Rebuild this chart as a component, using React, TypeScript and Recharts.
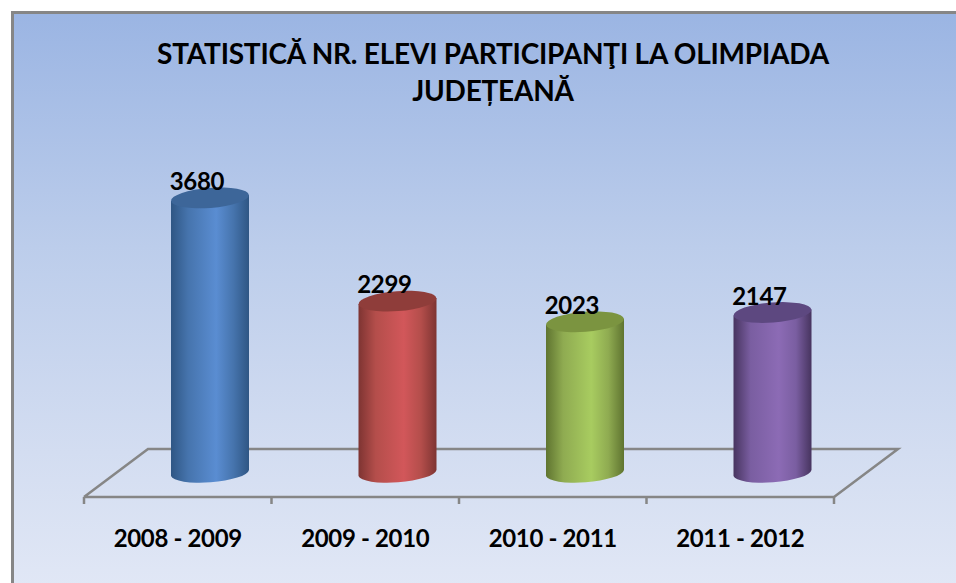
import { Bar, BarChart, LabelList, XAxis, YAxis } from "recharts";

const years = ["2008 - 2009", "2009 - 2010", "2010 - 2011", "2011 - 2012"];
const students = [3680, 2299, 2023, 2147];
const titleLines = ["STATISTICĂ NR. ELEVI PARTICIPANŢI LA OLIMPIADA", "JUDEȚEANĂ"];

const palette = [
  { edge: "#2f5684", side: "#4674ad", mid: "#5a8dd2", top: "#3d6699" },
  { edge: "#7e3432", side: "#b44e4b", mid: "#d2575a", top: "#8f3d3a" },
  { edge: "#5f7430", side: "#8fab51", mid: "#a8cc60", top: "#7b9440" },
  { edge: "#47345f", side: "#7a5ea1", mid: "#8c6bb5", top: "#5d4880" },
];

const chartData = years.map((year, i) => ({ year, students: students[i], color: i }));

const RY = 10;
const TILT = 3; // rise of the ellipse from left to right side

const Cylinder = (props: any) => {
  const { x, y, width, height, payload } = props;
  const c = palette[payload.color];
  const rx = width / 2;
  const right = x + width;
  const bottom = y + height;
  const arc = `A ${rx + 0.2} ${RY} -4.4 0 0`;
  return (
    <g>
      <path
        d={`M ${x} ${y + TILT} L ${x} ${bottom + TILT} ${arc} ${right} ${bottom - TILT} L ${right} ${y - TILT} Z`}
        fill={`url(#cyl${payload.color})`}
      />
      <ellipse
        cx={x + rx}
        cy={y}
        rx={rx}
        ry={RY}
        transform={`rotate(-4.4 ${x + rx} ${y})`}
        fill={c.top}
      />
    </g>
  );
};

const ValueLabel = (props: any) => {
  const { x, y, width, value } = props;
  return (
    <text
      x={x + width / 2 - 13}
      y={y - 8}
      textAnchor="middle"
      fontFamily="Lato"
      fontWeight={700}
      fontSize={24}
      letterSpacing={-0.3}
      fill="#000"
    >
      {value}
    </text>
  );
};

const YearTick = (props: any) => {
  const { x, y, payload } = props;
  return (
    <text
      x={x - 32}
      y={y + 66}
      textAnchor="middle"
      fontFamily="Lato"
      fontWeight={700}
      fontSize={24}
      letterSpacing={-0.35}
      fill="#000"
    >
      {payload.value}
    </text>
  );
};

const GRID = "#868686";
const FRONT = { left: 84, right: 834, y: 497 };
const BACK = { left: 148, right: 898, y: 449 };
const tickXs = [84, 271.5, 459, 646.5, 834];

export default function App() {
  return (
    <div
      style={{
        position: "absolute",
        left: 0,
        top: 0,
        width: 956,
        height: 583,
        overflow: "hidden",
        background: "#fff",
      }}
    >
      <div
        style={{
          position: "absolute",
          left: 11,
          top: 11,
          width: 960,
          height: 590,
          boxSizing: "border-box",
          border: `3px solid ${GRID}`,
          background: "linear-gradient(180deg, #9bb5e3 0%, #bccdeb 40%, #d3ddf1 75%, #e2e8f6 100%)",
        }}
      />
      <BarChart
        width={956}
        height={583}
        data={chartData}
        margin={{ top: 174, right: 90, bottom: 0, left: 116 }}
        style={{ position: "absolute", left: 0, top: 0 }}
      >
        <defs>
          {palette.map((c, i) => (
            <linearGradient key={i} id={`cyl${i}`} x1="0" y1="0" x2="1" y2="0">
              <stop offset="0%" stopColor={c.edge} />
              <stop offset="22%" stopColor={c.side} />
              <stop offset="58%" stopColor={c.mid} />
              <stop offset="80%" stopColor={c.side} />
              <stop offset="100%" stopColor={c.edge} />
            </linearGradient>
          ))}
        </defs>
        <g stroke={GRID} strokeWidth={2.5} fill="none">
          <polyline
            points={`${FRONT.left},${FRONT.y} ${BACK.left},${BACK.y} ${BACK.right},${BACK.y} ${FRONT.right},${FRONT.y} ${FRONT.left},${FRONT.y}`}
          />
          {tickXs.map((tx) => (
            <line key={tx} x1={tx} x2={tx} y1={FRONT.y} y2={FRONT.y + 7} />
          ))}
        </g>
        <g textAnchor="middle" fontFamily="Lato" fontWeight={700} fontSize={28} letterSpacing={-0.22} fill="#000">
          {titleLines.map((line, i) => (
            <text key={line} x={493} y={64 + i * 37}>
              {line}
            </text>
          ))}
        </g>
        <XAxis dataKey="year" axisLine={false} tickLine={false} height={110} tick={YearTick} interval={0} />
        <YAxis hide domain={[0, 4000]} />
        <Bar dataKey="students" barSize={78} shape={Cylinder} isAnimationActive={false}>
          <LabelList dataKey="students" content={ValueLabel} />
        </Bar>
      </BarChart>
    </div>
  );
}
